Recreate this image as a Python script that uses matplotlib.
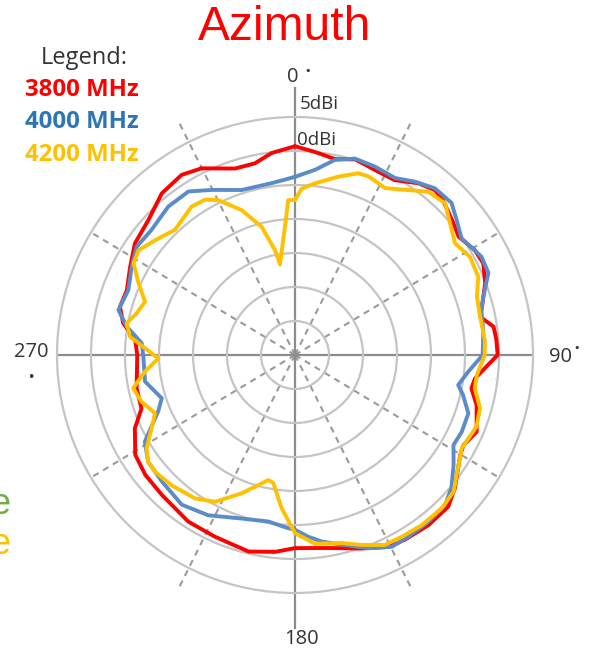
import numpy as np
import matplotlib
matplotlib.use("Agg")
import matplotlib.pyplot as plt

# ---------------- data (gain in dBi vs azimuth in degrees) ----------------
ang_3800 = [0, 5.6, 11.6, 17.1, 24.4, 29.7, 35.7, 40.3, 43.7, 50.3,
            54.1, 59.7, 64, 69.3, 75.5, 78.3, 81.9, 85.7, 90, 97.4,
            100.7, 105.4, 112.9, 118.1, 121.2, 129.8, 134.7, 141.9, 149.3, 154,
            161, 170.2, 180, 185.8, 193.3, 203.8, 212.6, 223.6, 231.3, 238,
            245.4, 250.8, 258.1, 270, 275.4, 280.5, 285.4, 291.1, 298.2, 304.9,
            312.6, 320.5, 327.8, 333.4, 342.2, 348.2, 353.4]
db_3800 = [0.7, 0.0, -0.6, 0.1, -0.4, -0.4, 1.1, 1.8, 1.5, 0.3,
           -0.3, 0.6, 0.8, -0.1, -1.6, -2.2, -0.5, -0.3, -0.2, -3.3,
           -3.6, -2.3, -1.0, -1.9, -1.6, 0.6, 1.7, 1.8, 1.6, 1.4,
           0.1, -1.2, -1.6, -0.9, -0.3, -0.8, -0.9, -1.6, -1.8, -2.3,
           -4.1, -6.1, -6.2, -6.8, -6.4, -4.3, -3.3, -3.5, -2.5, -1.3,
           -0.7, 0.8, 1.3, 0.7, -1.2, -1.2, -0.1]

ang_4000 = [0, 6.2, 11.6, 17, 23, 29.5, 34.7, 40, 45.8, 50,
            55, 62.2, 67, 72.8, 76.4, 83, 90, 95.5, 100.4, 103.4,
            108.6, 114.7, 119.6, 124.8, 130.4, 135, 141.3, 148, 153.2, 159.2,
            165.3, 171.9, 175.8, 180, 182.2, 189.1, 198.1, 208.4, 217.1, 226.5,
            234, 240, 247.5, 252, 260, 269.4, 274.4, 279.6, 284.3, 291.3,
            298.4, 304.4, 311.1, 319.5, 326.9, 333.2, 342.1, 352.3]
db_4000 = [-3.8, -2.6, -0.7, 0.2, 0.1, -0.1, 1.0, 2.0, 2.1, 1.0,
           -0.1, 1.0, 0.9, -1.0, -1.8, -2.1, -2.4, -4.4, -5.6, -4.6,
           -3.1, -3.0, -3.2, -1.6, 0.2, 1.2, 1.4, 1.5, 1.6, 0.4,
           -1.1, -2.3, -3.2, -4.3, -4.5, -5.2, -4.7, -3.2, -2.4, -3.0,
           -3.3, -4.5, -8.2, -9.4, -7.6, -7.7, -7.4, -4.9, -3.2, -3.7,
           -2.7, -1.8, -2.0, -1.3, -1.3, -2.8, -4.5, -4.5]

ang_4200 = [0, 2.3, 6.6, 13.7, 19.2, 22.4, 28.4, 33.7, 39.2, 44.7,
            49.7, 55.1, 60.7, 66.9, 72.2, 78.3, 85.5, 90, 96.3, 100.5,
            106, 111.5, 119.2, 124, 130.8, 136.3, 143.3, 149.6, 154.7, 160.7,
            166, 174, 180, 185, 189.6, 192, 201.1, 208.6, 214.9, 223.5,
            230.2, 234, 237.8, 242.9, 247.4, 253.1, 258.4, 263.7, 268.6, 276.3,
            280.7, 284.7, 289.6, 294.6, 299.6, 303.8, 309.4, 316.2, 325.1, 330,
            333.7, 339.8, 345.4, 349.2, 350.6, 353.7, 355.5, 357.5]
db_4200 = [-7.2, -5.5, -4.6, -3.0, -1.7, -1.6, -2.1, -0.8, 1.0, 1.4,
           -0.1, -1.3, -0.5, -0.7, -1.9, -2.2, -2.0, -2.1, -3.1, -3.1,
           -1.7, -1.3, -1.9, -1.0, 0.8, 1.2, 1.2, 1.0, 0.9, -0.4,
           -1.5, -2.1, -3.8, -7.4, -10.9, -11.2, -8.2, -5.4, -4.3, -3.6,
           -3.2, -3.3, -4.2, -6.3, -7.7, -6.4, -5.7, -7.8, -9.9, -5.6,
           -4.8, -5.9, -6.6, -4.7, -2.7, -2.3, -3.4, -4.5, -3.4, -3.6,
           -4.6, -7.3, -10.5, -14.3, -16.5, -13.5, -11.1, -7.2]

series_labels = ["3800 MHz", "4000 MHz", "4200 MHz"]
series_colors = ["#FF0000", "#5B8CC8", "#FFC000"]
legend_colors = ["#FF0000", "#2E75B6", "#FFC000"]

ring_levels = [-25, -20, -15, -10, -5, 0]
r_min, r_max = -30, 5
spoke_angles = [26.5, 59, 121, 153.5, 206.5, 239, 301, 333.5]
spoke_ends = [8.2, 5.3, 5.3, 8.2, 8.2, 5.3, 5.3, 8.2]

# ---------------- figure ----------------
W, H = 592, 656
fig = plt.figure(figsize=(W / 100, H / 100), dpi=100)
cx, cy, R = 295, 355, 238
ax = fig.add_axes([(cx - R) / W, (H - cy - R) / H, 2 * R / W, 2 * R / H],
                  projection="polar")
ax.set_theta_zero_location("N")
ax.set_theta_direction(-1)
ax.set_ylim(r_min, r_max)
ax.set_facecolor("none")

grid_gray = "#C4C4C4"
ax.set_yticks(ring_levels)
ax.set_yticklabels([])
ax.set_xticks([])
ax.yaxis.grid(True, color=grid_gray, lw=1.6)
ax.xaxis.grid(False)
ax.spines["polar"].set_color(grid_gray)
ax.spines["polar"].set_linewidth(1.6)

# dashed spokes
for a, e in zip(spoke_angles, spoke_ends):
    ax.plot([np.deg2rad(a)] * 2, [r_min, e], color="#9A9A9A", lw=1.5,
            ls=(0, (3, 2.5)), clip_on=False, zorder=1)
# solid axes
axis_gray = "#8C8C8C"
ax.plot([0, 0], [r_min, 9.3], color=axis_gray, lw=1.6, clip_on=False, zorder=1)
ax.plot([np.pi, np.pi], [r_min, 10.1], color=axis_gray, lw=1.6, clip_on=False, zorder=1)
ax.plot([np.pi / 2, np.pi / 2], [r_min, r_max], color=axis_gray, lw=1.6, zorder=1)
ax.plot([1.5 * np.pi, 1.5 * np.pi], [r_min, r_max], color=axis_gray, lw=1.6, zorder=1)

# data curves
for angs, dbs, col in [(ang_3800, db_3800, series_colors[0]),
                       (ang_4000, db_4000, series_colors[1]),
                       (ang_4200, db_4200, series_colors[2])]:
    th = np.deg2rad(np.array(angs + [angs[0]]))
    rr = np.array(dbs + [dbs[0]])
    ax.plot(th, rr, color=col, lw=2.8, solid_joinstyle="round",
            solid_capstyle="round", zorder=3)

# ---------------- texts ----------------
def px(x, y):
    return x / W, 1 - y / H

tfont = ["Open Sans", "DejaVu Sans"]
fig.text(*px(285, 27), "Azimuth", color="#FF0000", fontsize=34.5,
         family=["Liberation Sans", "DejaVu Sans"], ha="center", va="center")

fig.text(*px(84, 58), "Legend:", color="#333333", fontsize=17, family=tfont,
         ha="center", va="center")
for i, (lab, col) in enumerate(zip(series_labels, legend_colors)):
    fig.text(*px(82, 90 + 32.5 * i), lab, color=col, fontsize=17.3,
             fontweight="bold", family=tfont, ha="center", va="center")

lab_col = "#333333"
fs_ang = 14.5
fig.text(*px(293, 77), "0", color=lab_col, fontsize=fs_ang, family=tfont,
         ha="center", va="center")
fig.text(*px(308, 71), "•", color=lab_col, fontsize=8, family=["DejaVu Sans"],
         ha="center", va="center")
fig.text(*px(560, 357), "90", color=lab_col, fontsize=fs_ang, family=tfont,
         ha="center", va="center")
fig.text(*px(577, 348), "•", color=lab_col, fontsize=8, family=["DejaVu Sans"],
         ha="center", va="center")
fig.text(*px(31, 352), "270", color=lab_col, fontsize=fs_ang, family=tfont,
         ha="center", va="center")
fig.text(*px(31, 377), "•", color=lab_col, fontsize=9, family=["DejaVu Sans"],
         ha="center", va="center")
fig.text(*px(301, 639), "180", color=lab_col, fontsize=fs_ang, family=tfont,
         ha="center", va="center")
fig.text(*px(300, 104), "5dBi", color=lab_col, fontsize=13.5, family=tfont,
         ha="left", va="center")
fig.text(*px(297, 140), "0dBi", color=lab_col, fontsize=13.5, family=tfont,
         ha="left", va="center")

# cropped fragments at the left edge (as in the reference)
fig.text(*px(11, 505), "e", color="#70AD47", fontsize=26,
         family=["Liberation Sans", "DejaVu Sans"], ha="right", va="center")
fig.text(*px(11, 545), "e", color="#FFC000", fontsize=26,
         family=["Liberation Sans", "DejaVu Sans"], ha="right", va="center")

fig.savefig("out.png", dpi=100, facecolor="white")
